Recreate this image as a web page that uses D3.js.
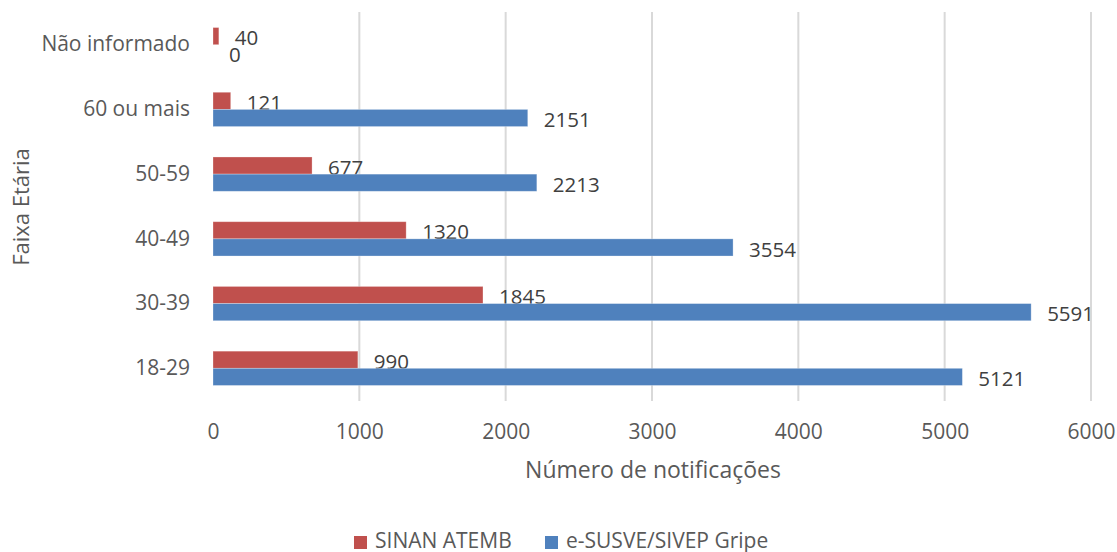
<!DOCTYPE html>
<html>
<head>
<meta charset="utf-8">
<script src="https://cdn.jsdelivr.net/npm/d3@7"></script>
<style>
  body { margin: 0; background: #fff; }
  text { font-family: "Open Sans", sans-serif; }
</style>
</head>
<body>
<svg id="chart" width="1117" height="552"></svg>
<script>
// data
const categories = ["Não informado", "60 ou mais", "50-59", "40-49", "30-39", "18-29"]
const sinanValues = [40, 121, 677, 1320, 1845, 990]
const sivepValues = [0, 2151, 2213, 3554, 5591, 5121]
const seriesNames = ["SINAN ATEMB", "e-SUSVE/SIVEP Gripe"]
const xTicks = [0, 1000, 2000, 3000, 4000, 5000, 6000]

const colors = ["#C0504D", "#4F81BD"]
const series = [sinanValues, sivepValues]

const svg = d3.select("#chart")
const plotLeft = 213, plotRight = 1091, plotTop = 12, plotBottom = 401

let xScale = d3.scaleLinear().domain([0, 6000]).range([plotLeft, plotRight])
let yScale = d3.scaleBand().domain(categories).range([plotTop, plotBottom]).paddingInner(0.47).paddingOuter(0.24)
let inner = d3.scaleBand().domain([0, 1]).range([0, yScale.bandwidth()])

// gridlines
svg.append("g")
    .selectAll("line")
    .data(xTicks.filter(d => d > 0))
    .join("line")
    .attr("x1", d => xScale(d)).attr("x2", d => xScale(d))
    .attr("y1", plotTop).attr("y2", plotBottom)
    .style("stroke", "#D9D9D9").style("stroke-width", 2)

// x axis labels
let xAxis = d3.axisBottom(xScale).tickValues(xTicks).tickFormat(d3.format("d")).tickSize(0).tickPadding(0)
let gx = svg.append("g").attr("transform", `translate(0,${plotBottom + 23})`).call(xAxis)
gx.select(".domain").remove()
gx.attr("font-family", null).attr("font-size", null)
gx.selectAll("text").style("font-size", "21px").style("fill", "#595959").attr("dy", "0.72em")

// y axis labels
let yAxis = d3.axisLeft(yScale).tickSize(0).tickPadding(23)
let gy = svg.append("g").attr("transform", `translate(${plotLeft},0)`).call(yAxis)
gy.select(".domain").remove()
gy.attr("font-family", null).attr("font-size", null)
gy.selectAll("text").style("font-size", "21px").style("fill", "#595959")

// bars and labels
series.forEach((vals, i) => {
    let g = svg.append("g")
    g.selectAll("rect")
        .data(vals)
        .join("rect")
        .attr("x", xScale(0))
        .attr("y", (d, j) => yScale(categories[j]) + inner(i))
        .attr("width", d => xScale(d) - xScale(0))
        .attr("height", inner.bandwidth())
        .style("fill", colors[i])
        .style("stroke", "#fff").style("stroke-opacity", 0.35).style("stroke-width", 0.8)

    g.selectAll("text")
        .data(vals)
        .join("text")
        .attr("x", d => xScale(d) + 16)
        .attr("y", (d, j) => yScale(categories[j]) + inner(i) + inner.bandwidth() / 2 + 2)
        .attr("dy", "0.35em")
        .style("font-size", "20.5px").style("fill", "#404040")
        .text(d => d)
})

// axis titles
svg.append("text")
    .attr("x", 653).attr("y", 478)
    .attr("text-anchor", "middle")
    .style("font-size", "23px").style("fill", "#595959")
    .text("Número de notificações")

svg.append("text")
    .attr("transform", "translate(29,207) rotate(-90)")
    .attr("text-anchor", "middle")
    .style("font-size", "22px").style("fill", "#595959")
    .text("Faixa Etária")

// legend
let legendX = [354, 545]
seriesNames.forEach((name, i) => {
    svg.append("rect")
        .attr("x", legendX[i]).attr("y", 536)
        .attr("width", 13).attr("height", 13)
        .style("fill", colors[i])
    svg.append("text")
        .attr("x", legendX[i] + 21).attr("y", 548)
        .style("font-size", "21px").style("fill", "#595959")
        .text(name)
})
</script>
</body>
</html>
